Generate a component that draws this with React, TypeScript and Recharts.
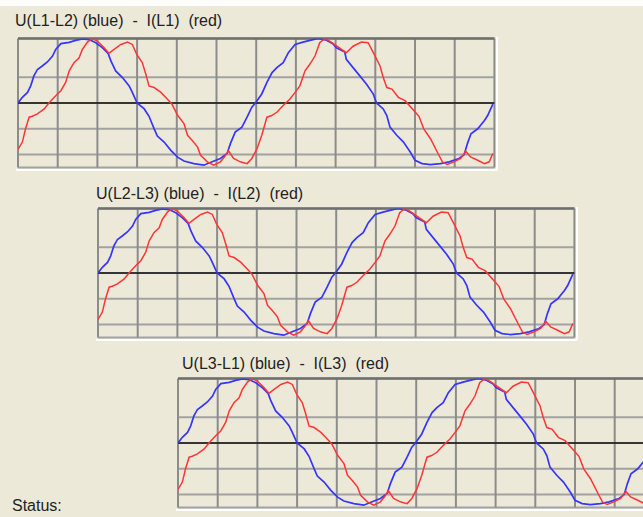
import React from 'react';
import { LineChart, Line, XAxis, YAxis, CartesianGrid, ReferenceLine } from 'recharts';

const titles = [
  'U(L1-L2) (blue)  -  I(L1)  (red)',
  'U(L2-L3) (blue)  -  I(L2)  (red)',
  'U(L3-L1) (blue)  -  I(L3)  (red)',
];
const panelLefts = [16, 96, 176];
const panelTops = [37, 207, 377];
const titleLefts = [15, 96, 182];
const titleTops = [13, 186, 356];

const xTicks = [0, 1, 2, 3, 4, 5, 6, 7, 8, 9, 10, 11, 12];
const yTicks = [-5, -4, -3, -2, -1, 0, 1, 2, 3, 4, 5];

const blueX = [0, 0.11, 0.24, 0.32, 0.4, 0.49, 0.61, 0.74, 0.87, 0.95, 1.08, 1.29, 1.45, 1.62, 1.79, 1.96, 2.13, 2.27, 2.34, 2.46, 2.63, 2.8, 2.88, 3.0, 3.18, 3.3, 3.43, 3.51, 3.68, 3.85, 4.02, 4.18, 4.43, 4.68, 4.89, 5.1, 5.27, 5.35, 5.47, 5.64, 5.77, 5.89, 5.98, 6.14, 6.27, 6.4, 6.52, 6.68, 6.81, 6.98, 7.18, 7.35, 7.56, 7.77, 7.93, 8.02, 8.23, 8.27, 8.44, 8.61, 8.78, 8.95, 9.03, 9.2, 9.29, 9.37, 9.54, 9.71, 9.88, 10.0, 10.18, 10.39, 10.64, 10.86, 11.11, 11.24, 11.32, 11.41, 11.58, 11.75, 11.83, 11.96];
const blueY = [0, 0.44, 0.82, 1.33, 2.1, 2.6, 2.87, 3.18, 3.64, 4.15, 4.6, 4.7, 4.85, 4.97, 4.92, 4.67, 4.28, 3.85, 3.26, 2.49, 1.97, 1.33, 0.82, 0, -0.46, -1.03, -2.0, -2.56, -3.03, -3.67, -4.2, -4.5, -4.7, -4.82, -4.56, -4.3, -3.9, -3.15, -2.26, -1.87, -1.1, -0.33, 0, 0.7, 1.6, 2.36, 2.74, 3.13, 3.9, 4.54, 4.72, 4.85, 5.0, 4.87, 4.6, 4.28, 3.95, 3.38, 2.74, 2.1, 1.46, 0.69, 0, -0.46, -0.97, -1.87, -2.5, -3.03, -3.8, -4.44, -4.7, -4.77, -4.7, -4.56, -4.3, -4.0, -3.15, -2.38, -2.0, -1.36, -0.97, -0.08];

const redX = [0, 0.11, 0.19, 0.28, 0.36, 0.49, 0.66, 0.78, 0.95, 1.08, 1.2, 1.29, 1.41, 1.54, 1.62, 1.75, 1.87, 2.0, 2.17, 2.29, 2.42, 2.59, 2.76, 2.88, 2.99, 3.13, 3.22, 3.3, 3.43, 3.6, 3.76, 3.88, 4.02, 4.18, 4.27, 4.39, 4.52, 4.6, 4.77, 4.93, 5.1, 5.22, 5.3, 5.43, 5.6, 5.77, 5.89, 6.02, 6.14, 6.27, 6.39, 6.52, 6.68, 6.85, 6.98, 7.1, 7.23, 7.35, 7.48, 7.6, 7.73, 7.87, 8.06, 8.27, 8.44, 8.65, 8.82, 8.95, 9.12, 9.2, 9.29, 9.42, 9.58, 9.75, 9.97, 10.1, 10.22, 10.39, 10.56, 10.69, 10.81, 10.98, 11.15, 11.28, 11.4, 11.58, 11.75, 11.87, 11.96];
const redY = [-3.6, -3.03, -2.0, -1.1, -1.03, -0.85, -0.46, 0, 0.56, 0.95, 1.6, 2.5, 3.13, 3.5, 4.15, 4.72, 5.0, 4.8, 4.28, 3.85, 4.15, 4.54, 4.72, 4.54, 3.77, 3.13, 2.23, 1.33, 1.2, 0.82, 0.31, -0.1, -0.95, -1.6, -2.5, -2.9, -3.4, -4.05, -4.56, -4.82, -4.56, -4.1, -3.7, -4.3, -4.56, -4.7, -4.3, -3.54, -2.5, -1.1, -0.97, -0.72, -0.2, 0.31, 0.82, 1.33, 2.49, 3.0, 3.64, 4.67, 5.0, 4.76, 4.35, 3.9, 4.4, 4.72, 4.67, 3.9, 2.87, 1.97, 1.2, 1.08, 0.44, 0.18, -0.59, -1.03, -2.0, -2.77, -3.8, -4.56, -4.77, -4.56, -4.3, -3.74, -4.18, -4.44, -4.7, -4.56, -3.92];

const blueData = blueX.map((u, i) => ({ u, v: blueY[i] }));
const redData = redX.map((u, i) => ({ u, v: redY[i] }));

const BG = '#ECE9D8';
const FONT = '"Liberation Sans", Arial, sans-serif';
const CW = 480;
const CH = 132;

function Panel({ idx }: { idx: number }) {
  const left = panelLefts[idx];
  const top = panelTops[idx];
  return (
    <>
      <div
        style={{
          position: 'absolute',
          left: titleLefts[idx],
          top: titleTops[idx],
          fontFamily: FONT,
          fontSize: 16,
          lineHeight: '16px',
          color: '#222',
          whiteSpace: 'pre',
        }}
      >
        {titles[idx]}
      </div>
      <div style={{ position: 'absolute', left, top, width: CW, height: CH }}>
        <LineChart width={CW} height={CH} margin={{ top: 1.5, right: 1.6, bottom: 1.5, left: 2 }}>
          <XAxis type="number" dataKey="u" domain={[0, 12]} ticks={xTicks} hide allowDataOverflow />
          <YAxis type="number" dataKey="v" domain={[-5, 5]} ticks={yTicks} hide allowDataOverflow />
          <CartesianGrid vertical={false} stroke="#a2a2a2" strokeWidth={2} />
          <CartesianGrid horizontal={false} stroke="#8c8c8c" strokeWidth={2} />
          <ReferenceLine y={0} stroke="#111" strokeWidth={1.5} />
          <ReferenceLine y={5} stroke="#6f6f6f" strokeWidth={2.5} />
          <Line data={blueData} dataKey="v" type="linear" stroke="#3535ff" strokeWidth={1.7} dot={false} isAnimationActive={false} />
          <Line data={redData} dataKey="v" type="linear" stroke="#ff3535" strokeWidth={1.5} dot={false} isAnimationActive={false} />
        </LineChart>
      </div>
      <div style={{ position: 'absolute', left: left, top: top + CH - 0.5, width: CW + 1, height: 2, background: '#ffffff' }} />
      <div style={{ position: 'absolute', left: left + CW - 0.5, top: top, width: 2, height: CH + 1, background: '#ffffff' }} />
    </>
  );
}

export default function App() {
  return (
    <div
      style={{
        position: 'fixed',
        left: 0,
        top: 0,
        width: 643,
        height: 517,
        overflow: 'hidden',
        background: BG,
      }}
    >
      <div style={{ position: 'absolute', left: 0, top: 0, width: 643, height: 6, background: '#fdfdfb' }} />
      <Panel idx={0} />
      <Panel idx={1} />
      <Panel idx={2} />
      <div
        style={{
          position: 'absolute',
          left: 12,
          top: 498,
          fontFamily: FONT,
          fontSize: 16,
          lineHeight: '16px',
          color: '#222',
        }}
      >
        Status:
      </div>
    </div>
  );
}
